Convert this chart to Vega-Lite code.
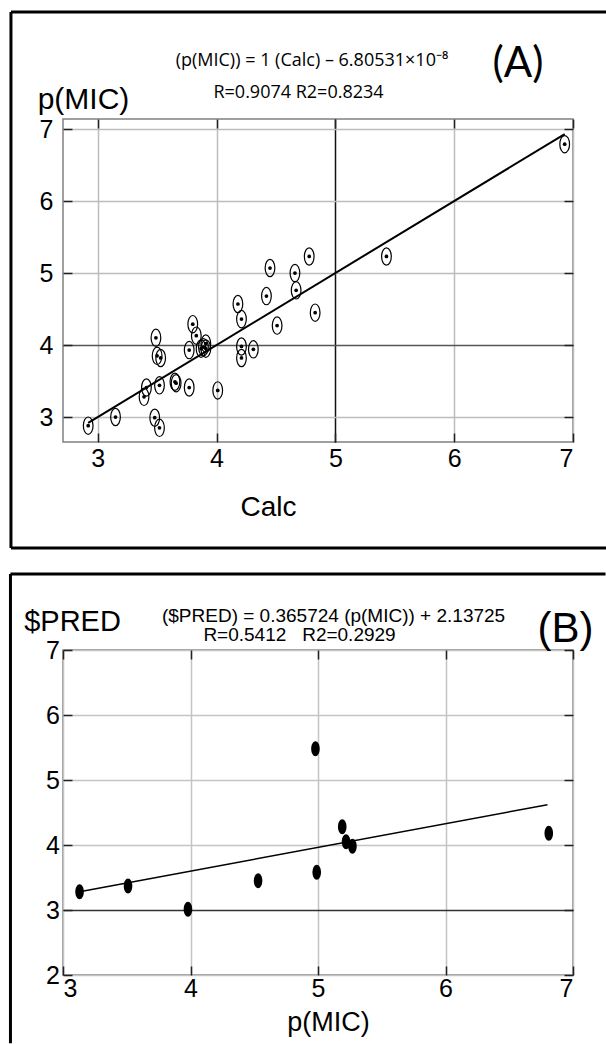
{
  "$schema": "https://vega.github.io/schema/vega-lite/v6.json",
  "background": "white",
  "padding": {"left": 8, "top": 9, "right": 0, "bottom": 0},
  "spacing": 20,
  "config": {
    "view": {"stroke": "#808080", "strokeWidth": 1.5},
    "axis": {"labelFont": "Liberation Sans", "titleFont": "Liberation Sans", "titleFontWeight": "normal", "labelColor": "black", "titleColor": "black"}
  },
  "datasets": {
    "a_points": [
      {"calc": 2.92, "pmic": 2.88}, {"calc": 3.15, "pmic": 3.0}, {"calc": 3.48, "pmic": 2.99}, {"calc": 3.52, "pmic": 2.85},
      {"calc": 3.39, "pmic": 3.28}, {"calc": 3.41, "pmic": 3.41}, {"calc": 3.52, "pmic": 3.44}, {"calc": 3.65, "pmic": 3.49},
      {"calc": 3.66, "pmic": 3.47}, {"calc": 3.77, "pmic": 3.41}, {"calc": 3.49, "pmic": 4.1}, {"calc": 3.5, "pmic": 3.85},
      {"calc": 3.53, "pmic": 3.82}, {"calc": 3.77, "pmic": 3.93}, {"calc": 3.8, "pmic": 4.29}, {"calc": 3.83, "pmic": 4.13},
      {"calc": 3.87, "pmic": 3.95}, {"calc": 3.89, "pmic": 3.97}, {"calc": 3.91, "pmic": 4.02}, {"calc": 3.91, "pmic": 3.95},
      {"calc": 4.01, "pmic": 3.37}, {"calc": 4.18, "pmic": 4.57}, {"calc": 4.21, "pmic": 4.36}, {"calc": 4.21, "pmic": 3.98},
      {"calc": 4.21, "pmic": 3.82}, {"calc": 4.31, "pmic": 3.94}, {"calc": 4.45, "pmic": 5.07}, {"calc": 4.42, "pmic": 4.68},
      {"calc": 4.51, "pmic": 4.27}, {"calc": 4.66, "pmic": 5.0}, {"calc": 4.67, "pmic": 4.76}, {"calc": 4.78, "pmic": 5.23},
      {"calc": 4.83, "pmic": 4.45}, {"calc": 5.43, "pmic": 5.23}, {"calc": 6.93, "pmic": 6.79}
    ],
    "a_line": [{"calc": 2.92, "pmic": 2.92}, {"calc": 6.93, "pmic": 6.93}],
    "b_points": [
      {"pmic": 3.13, "pred": 3.28}, {"pmic": 3.51, "pred": 3.37}, {"pmic": 3.98, "pred": 3.01}, {"pmic": 4.53, "pred": 3.45},
      {"pmic": 4.99, "pred": 3.58}, {"pmic": 4.98, "pred": 5.48}, {"pmic": 5.19, "pred": 4.28}, {"pmic": 5.22, "pred": 4.05},
      {"pmic": 5.27, "pred": 3.98}, {"pmic": 6.81, "pred": 4.18}
    ],
    "b_line": [{"pmic": 3.13, "pred": 3.28}, {"pmic": 6.8, "pred": 4.62}]
  },
  "vconcat": [
    {
      "width": 510,
      "height": 323,
      "layer": [
        {
          "data": {"name": "a_points"},
          "mark": {"type": "point", "shape": "M0,-1 A0.56,1 0 1 1 0,1 A0.56,1 0 1 1 0,-1 Z", "filled": false, "color": "black", "strokeWidth": 1.2, "size": 300, "opacity": 1},
          "encoding": {
            "x": {"field": "calc", "type": "quantitative", "scale": {"domain": [2.708, 7], "nice": false, "zero": false},
              "axis": {"orient": "bottom", "values": [3, 4, 5, 6, 7], "title": "Calc", "titleFontSize": 28, "titleX": 205, "titleY": 73, "titleAlign": "center", "titleBaseline": "alphabetic",
                "labelFontSize": 25, "labelPadding": 13, "tickSize": -9, "tickColor": "#222", "tickWidth": 1.5, "domain": false, "grid": true, "gridWidth": 1.5,
                "gridColor": {"condition": {"test": "datum.value === 5", "value": "#111111"}, "value": "#bdbdbd"}}},
            "y": {"field": "pmic", "type": "quantitative", "scale": {"domain": [2.653, 7.14], "nice": false, "zero": false},
              "axis": {"orient": "left", "values": [3, 4, 5, 6, 7], "title": "p(MIC)", "titleFontSize": 30, "titleAngle": 0, "titleX": 20, "titleY": -11, "titleAlign": "center", "titleBaseline": "alphabetic",
                "labelFontSize": 25, "labelPadding": 19, "tickSize": -9, "tickColor": "#222", "tickWidth": 1.5, "domain": false, "grid": true, "gridWidth": 1.5,
                "gridColor": {"condition": {"test": "datum.value === 4", "value": "#555555"}, "value": "#bdbdbd"}}}
          }
        },
        {
          "data": {"name": "a_points"},
          "mark": {"type": "circle", "size": 14, "color": "black", "opacity": 1},
          "encoding": {
            "x": {"field": "calc", "type": "quantitative", "axis": null},
            "y": {"field": "pmic", "type": "quantitative", "axis": null}
          }
        },
        {
          "data": {"name": "a_line"},
          "mark": {"type": "line", "color": "black", "strokeWidth": 2},
          "encoding": {
            "x": {"field": "calc", "type": "quantitative",
              "axis": {"orient": "top", "values": [3, 4, 5, 6, 7], "labels": false, "grid": false, "domain": false, "tickSize": -9, "tickColor": "#222", "tickWidth": 1.5, "title": null}},
            "y": {"field": "pmic", "type": "quantitative",
              "axis": {"orient": "right", "values": [3, 4, 5, 6, 7], "labels": false, "grid": false, "domain": false, "tickSize": -9, "tickColor": "#222", "tickWidth": 1.5, "title": null}}
          }
        },
        {
          "data": {"values": [{}]},
          "mark": {"type": "rule", "color": "black", "strokeWidth": 3},
          "encoding": {
            "x": {"datum": 2.27, "type": "quantitative", "axis": null},
            "x2": {"datum": 7.278},
            "y": {"datum": 8.626, "type": "quantitative", "axis": null}
          }
        },
        {
          "data": {"values": [{}]},
          "mark": {"type": "rule", "color": "black", "strokeWidth": 3},
          "encoding": {
            "x": {"datum": 2.27, "type": "quantitative", "axis": null},
            "x2": {"datum": 7.278},
            "y": {"datum": 1.18, "type": "quantitative", "axis": null}
          }
        },
        {
          "data": {"values": [{}]},
          "mark": {"type": "rule", "color": "black", "strokeWidth": 3},
          "encoding": {
            "x": {"datum": 2.27, "type": "quantitative", "axis": null},
            "y": {"datum": 8.626, "type": "quantitative", "axis": null},
            "y2": {"datum": 1.18}
          }
        },
        {
          "data": {"values": [{}]},
          "mark": {"type": "text", "text": "(p(MIC)) = 1 (Calc) – 6.80531×10⁻⁸", "font": "Open Sans", "fontSize": 18, "color": "black", "align": "center", "baseline": "alphabetic"},
          "encoding": {
            "x": {"datum": 4.803, "type": "quantitative", "axis": null},
            "y": {"datum": 7.876, "type": "quantitative", "axis": null}
          }
        },
        {
          "data": {"values": [{}]},
          "mark": {"type": "text", "text": "R=0.9074 R2=0.8234", "font": "Open Sans", "fontSize": 18, "color": "black", "align": "center", "baseline": "alphabetic"},
          "encoding": {
            "x": {"datum": 4.69, "type": "quantitative", "axis": null},
            "y": {"datum": 7.432, "type": "quantitative", "axis": null}
          }
        },
        {
          "data": {"values": [{}]},
          "mark": {"type": "text", "text": "(A)", "font": "Lato", "fontSize": 42, "color": "black", "align": "center", "baseline": "alphabetic"},
          "encoding": {
            "x": {"datum": 6.537, "type": "quantitative", "axis": null},
            "y": {"datum": 7.72, "type": "quantitative", "axis": null}
          }
        }
      ]
    },
    {
      "width": 510,
      "height": 325,
      "layer": [
        {
          "data": {"name": "b_points"},
          "mark": {"type": "point", "shape": "M0,-1 A0.57,1 0 1 1 0,1 A0.57,1 0 1 1 0,-1 Z", "filled": true, "color": "black", "size": 225, "opacity": 1},
          "encoding": {
            "x": {"field": "pmic", "type": "quantitative", "scale": {"domain": [3, 7], "nice": false, "zero": false},
              "axis": {"orient": "bottom", "values": [3, 4, 5, 6, 7], "title": "p(MIC)", "titleFontSize": 27, "titleX": 265, "titleY": 55, "titleAlign": "center", "titleBaseline": "alphabetic",
                "labelFontSize": 25, "labelPadding": 10, "labelFlush": true, "tickSize": -9, "tickColor": "#222", "tickWidth": 1.5, "domain": false, "grid": true, "gridWidth": 1.5, "gridColor": "#c4c4c4"}},
            "y": {"field": "pred", "type": "quantitative", "scale": {"domain": [2, 7], "nice": false, "zero": false},
              "axis": {"orient": "left", "values": [2, 3, 4, 5, 6, 7], "title": "$PRED", "titleFontSize": 29, "titleAngle": 0, "titleX": 9, "titleY": -20, "titleAlign": "center", "titleBaseline": "alphabetic",
                "labelFontSize": 25, "labelPadding": 12.5, "tickSize": -9, "tickColor": "#222", "tickWidth": 1.5, "domain": false, "grid": true, "gridWidth": 1.5,
                "gridColor": {"condition": {"test": "datum.value === 3", "value": "#333333"}, "value": "#c4c4c4"}}}
          }
        },
        {
          "data": {"name": "b_line"},
          "mark": {"type": "line", "color": "black", "strokeWidth": 1.5},
          "encoding": {
            "x": {"field": "pmic", "type": "quantitative",
              "axis": {"orient": "top", "values": [3, 4, 5, 6, 7], "labels": false, "grid": false, "domain": false, "tickSize": -9, "tickColor": "#222", "tickWidth": 1.5, "title": null}},
            "y": {"field": "pred", "type": "quantitative",
              "axis": {"orient": "right", "values": [2, 3, 4, 5, 6, 7], "labels": false, "grid": false, "domain": false, "tickSize": -9, "tickColor": "#222", "tickWidth": 1.5, "title": null}}
          }
        },
        {
          "data": {"values": [{}]},
          "mark": {"type": "rule", "color": "black", "strokeWidth": 3},
          "encoding": {
            "x": {"datum": 2.588, "type": "quantitative", "axis": null},
            "x2": {"datum": 7.255},
            "y": {"datum": 8.169, "type": "quantitative", "axis": null}
          }
        },
        {
          "data": {"values": [{}]},
          "mark": {"type": "rule", "color": "black", "strokeWidth": 3},
          "encoding": {
            "x": {"datum": 2.588, "type": "quantitative", "axis": null},
            "y": {"datum": 8.169, "type": "quantitative", "axis": null},
            "y2": {"datum": 0.95}
          }
        },
        {
          "data": {"values": [{}]},
          "mark": {"type": "text", "text": "($PRED) = 0.365724 (p(MIC)) + 2.13725", "font": "Liberation Sans", "fontSize": 19, "color": "black", "align": "center", "baseline": "alphabetic"},
          "encoding": {
            "x": {"datum": 5.122, "type": "quantitative", "axis": null},
            "y": {"datum": 7.43, "type": "quantitative", "axis": null}
          }
        },
        {
          "data": {"values": [{}]},
          "mark": {"type": "text", "text": "R=0.5412\u00a0\u00a0\u00a0R2=0.2929", "font": "Liberation Sans", "fontSize": 19, "color": "black", "align": "center", "baseline": "alphabetic"},
          "encoding": {
            "x": {"datum": 4.855, "type": "quantitative", "axis": null},
            "y": {"datum": 7.138, "type": "quantitative", "axis": null}
          }
        },
        {
          "data": {"values": [{}]},
          "mark": {"type": "text", "text": "(B)", "font": "Liberation Sans", "fontSize": 42, "color": "black", "align": "center", "baseline": "alphabetic"},
          "encoding": {
            "x": {"datum": 6.941, "type": "quantitative", "axis": null},
            "y": {"datum": 7.123, "type": "quantitative", "axis": null}
          }
        }
      ]
    }
  ]
}
